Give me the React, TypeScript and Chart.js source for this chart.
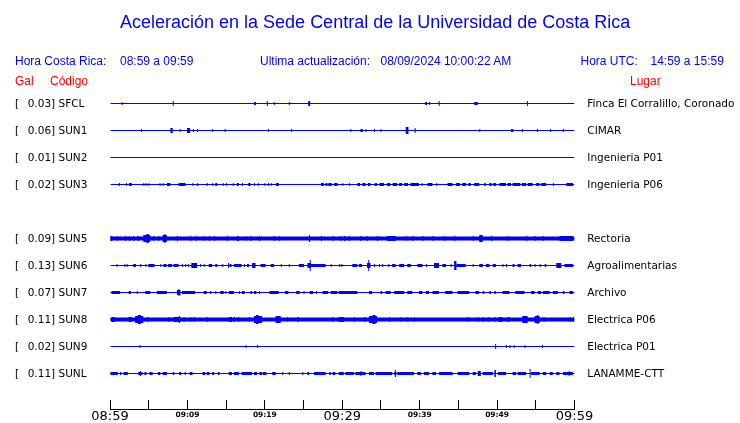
import React, { useEffect, useRef } from 'react';
import { Chart, registerables } from 'chart.js';

Chart.register(...registerables);

const TITLE = 'Aceleración en la Sede Central de la Universidad de Costa Rica';
const CR_TIME = '08:59 a 09:59';
const UTC_TIME = '14:59 a 15:59';
const UPDATED = '08/09/2024 10:00:22 AM';

const CODES = ['SFCL', 'SUN1', 'SUN2', 'SUN3', 'SUN5', 'SUN6', 'SUN7', 'SUN8', 'SUN9', 'SUNL'];
const PEAK_GAL = ['0.03', '0.06', '0.01', '0.02', '0.09', '0.13', '0.07', '0.11', '0.02', '0.11'];
const PLACES = [
  'Finca El Corralillo, Coronado',
  'CIMAR',
  'Ingenieria P01',
  'Ingenieria P06',
  'Rectoria',
  'Agroalimentarias',
  'Archivo',
  'Electrica P06',
  'Electrica P01',
  'LANAMME-CTT',
];
// slot of each station in the display (slot 4 is empty)
const ROWS = [0, 1, 2, 3, 5, 6, 7, 8, 9, 10];

// tick labels every 10 minutes from the window start (minute 0 = 08:59)
const TIME_LABELS = ['08:59', '09:09', '09:19', '09:29', '09:39', '09:49', '09:59'];
const WINDOW_MINUTES = 60;

// Each trace: [startMinute, endMinute, amplitude level]
const SFCL_TRACE = [
  [1.5, 1.5, 1], [8.1, 8.1, 2], [18.6, 18.85, 1], [20.25, 20.25, 2], [21.15, 21.15, 1],
  [23.1, 23.1, 1], [25.6, 25.85, 2], [40.7, 40.95, 1], [41.2, 41.2, 1], [42.45, 42.45, 2],
  [47.05, 47.5, 1], [53.85, 53.85, 2],
];
const SUN1_TRACE = [
  [4.0, 4.0, 1], [7.8, 8.1, 2], [9.0, 9.0, 1], [9.95, 10.35, 2], [10.7, 10.7, 1],
  [11.25, 11.25, 1], [13.2, 13.2, 1], [14.8, 14.8, 1], [20.4, 20.4, 1], [23.4, 23.4, 1],
  [31.05, 31.05, 1], [32.35, 32.65, 1], [33.0, 33.0, 1], [34.1, 34.1, 1], [34.95, 34.95, 1],
  [38.2, 38.55, 3], [39.35, 39.35, 2], [47.7, 47.7, 1], [51.8, 52.1, 1], [53.2, 53.2, 1],
  [55.15, 55.15, 1], [56.85, 56.85, 1], [58.5, 58.5, 1],
];
const SUN2_TRACE: number[][] = [];
const SUN3_TRACE = [
  [1.15, 1.15, 1], [2.05, 2.05, 1], [2.45, 2.8, 1], [4.3, 4.3, 1], [4.6, 4.6, 1], [4.95, 4.95, 1],
  [6.4, 6.4, 1], [6.8, 6.8, 1], [7.35, 7.8, 1], [8.85, 9.75, 1], [10.65, 10.65, 1], [11.25, 11.25, 1],
  [12.5, 12.5, 1], [13.2, 13.2, 1], [13.6, 13.85, 1], [14.55, 14.55, 1], [15.0, 15.0, 1],
  [15.85, 15.85, 1], [16.4, 16.65, 1], [17.05, 17.05, 1], [17.85, 18.15, 1], [18.6, 18.6, 1],
  [19.1, 19.1, 1], [19.95, 19.95, 1], [20.4, 20.4, 1], [20.75, 20.75, 1], [21.45, 21.8, 1],
  [27.25, 27.65, 1], [27.85, 28.1, 1], [28.2, 28.65, 1], [28.95, 29.4, 1], [30.0, 30.0, 1],
  [30.85, 30.85, 1], [31.95, 32.3, 1], [32.6, 33.0, 1], [33.3, 33.65, 1], [34.2, 34.5, 1],
  [34.8, 35.4, 1], [35.8, 36.2, 1], [36.5, 37.1, 1], [37.35, 37.75, 1], [38.0, 38.5, 1],
  [38.8, 39.9, 1], [40.25, 40.25, 1], [41.0, 41.65, 1], [42.15, 42.15, 1], [43.6, 44.25, 1],
  [44.7, 45.2, 1], [45.5, 46.0, 1], [46.3, 46.6, 1], [47.05, 47.7, 1], [48.35, 48.55, 1],
  [49.0, 49.3, 1], [49.5, 49.85, 1], [50.3, 51.15, 1], [51.35, 51.8, 1], [52.0, 53.0, 1],
  [53.2, 53.75, 1], [53.95, 54.6, 1], [55.05, 55.5, 1], [55.7, 56.35, 1], [57.2, 57.2, 1],
  [58.95, 59.8, 1],
];
const SUN5_TRACE = [
  [0, 60, 1.5],
  [0, 0.3, 2], [0.85, 0.85, 2], [1.95, 1.95, 2], [2.45, 2.45, 2], [3.0, 3.0, 2], [3.6, 3.6, 2],
  [4.3, 5.2, 3], [4.7, 5.0, 4], [5.6, 5.6, 2], [6.25, 6.25, 2], [6.8, 7.35, 3], [7.0, 7.1, 4],
  [8.65, 8.65, 2], [10.35, 10.35, 2], [11.1, 11.1, 2], [12.1, 12.1, 2], [12.75, 12.75, 2],
  [13.4, 13.4, 2], [15.1, 15.1, 2], [16.4, 16.65, 2], [17.5, 17.5, 2], [18.15, 18.15, 2],
  [19.25, 19.25, 2], [21.15, 21.15, 2], [21.8, 21.8, 2], [25.7, 25.7, 3], [27.25, 27.25, 2],
  [28.75, 28.75, 2], [29.75, 29.75, 2], [30.2, 30.4, 2], [30.85, 30.85, 2], [32.35, 32.35, 2],
  [33.2, 33.2, 2], [34.5, 34.5, 2], [35.8, 36.9, 2], [38.2, 38.2, 2], [39.05, 39.05, 2],
  [40.35, 40.35, 2], [41.65, 41.65, 2], [43.15, 43.15, 2], [44.45, 44.45, 2], [46.85, 46.85, 2],
  [47.7, 48.15, 3], [49.2, 49.2, 2], [51.35, 51.35, 2], [53.75, 53.75, 2], [54.85, 54.85, 2],
  [55.9, 55.9, 2], [58.05, 59.8, 2],
];
const SUN6_TRACE = [
  [0.85, 0.85, 1], [1.85, 1.85, 1], [2.15, 2.15, 1], [3.0, 3.35, 1], [3.9, 3.9, 1], [4.55, 4.55, 1],
  [4.95, 5.75, 1], [6.5, 6.5, 1], [6.9, 7.3, 1], [7.5, 8.0, 1], [8.2, 8.85, 1], [9.3, 9.3, 1],
  [9.7, 9.7, 1], [10.05, 10.05, 1], [10.5, 11.25, 2], [11.65, 11.65, 1], [12.1, 12.1, 1],
  [12.75, 13.2, 1], [13.6, 13.85, 1], [14.5, 14.5, 1], [15.25, 15.25, 2], [15.45, 15.7, 1],
  [16.0, 17.0, 1], [17.3, 17.3, 1], [17.7, 17.95, 1], [18.35, 18.8, 2], [19.45, 20.1, 1],
  [20.75, 21.2, 1], [22.05, 22.05, 1], [23.1, 23.1, 1], [24.4, 25.05, 1], [25.5, 25.95, 2],
  [25.8, 25.8, 5], [25.95, 27.85, 1], [28.5, 28.5, 1], [29.6, 29.6, 1], [29.9, 29.9, 1],
  [31.3, 31.95, 1], [32.15, 32.55, 1], [33.2, 33.65, 2], [33.35, 33.35, 5], [34.1, 34.1, 1],
  [34.75, 34.75, 1], [35.15, 35.15, 1], [35.95, 35.95, 1], [36.45, 36.9, 1], [37.35, 38.0, 1],
  [38.4, 38.85, 1], [39.7, 40.35, 1], [40.8, 40.8, 1], [41.85, 42.5, 2], [42.95, 43.4, 1],
  [44.0, 44.0, 1], [44.45, 44.75, 4], [44.75, 45.95, 1], [46.85, 46.85, 1], [47.7, 48.15, 1],
  [48.55, 49.0, 1], [49.45, 49.85, 1], [50.7, 50.7, 1], [51.15, 51.15, 1], [52.0, 52.25, 1],
  [52.65, 53.1, 1], [54.2, 54.4, 1], [54.85, 54.85, 1], [55.5, 55.5, 1], [56.15, 56.35, 1],
  [57.65, 58.3, 2], [58.7, 59.8, 1],
];
const SUN7_TRACE = [
  [0.2, 1.3, 1], [2.4, 2.7, 1], [3.45, 3.45, 1], [4.55, 5.2, 1], [6.05, 7.35, 1], [8.65, 9.1, 2],
  [8.85, 8.85, 3], [9.3, 11.0, 1], [12.1, 12.5, 1], [12.95, 12.95, 1], [13.6, 13.6, 1],
  [14.25, 14.7, 1], [14.9, 14.9, 1], [15.35, 16.0, 1], [16.65, 16.65, 1], [17.05, 17.4, 1],
  [18.15, 18.35, 1], [18.6, 18.9, 1], [19.25, 19.25, 1], [20.6, 21.8, 1], [22.6, 23.05, 1],
  [24.05, 24.5, 1], [25.0, 25.0, 1], [25.8, 26.25, 1], [26.6, 26.6, 1], [27.45, 28.2, 1],
  [28.5, 29.4, 1], [29.55, 31.95, 1], [33.45, 33.85, 1], [34.95, 35.15, 1], [35.6, 36.25, 1],
  [36.7, 38.0, 1], [38.4, 39.05, 1], [39.9, 40.35, 1], [40.8, 41.2, 1], [41.65, 42.5, 1],
  [43.3, 44.25, 1], [44.9, 46.4, 1], [47.2, 47.7, 1], [48.15, 48.35, 1], [49.0, 49.2, 1],
  [49.65, 49.85, 1], [50.7, 51.6, 1], [52.35, 53.55, 1], [54.4, 54.85, 1], [55.25, 55.7, 1],
  [55.9, 56.8, 1], [57.2, 57.85, 1], [58.5, 58.7, 1], [59.35, 59.8, 1],
];
const SUN8_TRACE = [
  [0, 60, 1.5],
  [0.2, 0.65, 2], [2.4, 2.8, 2], [3.25, 4.3, 3], [3.6, 4.0, 4], [4.75, 4.95, 2], [7.55, 7.55, 2],
  [8.2, 9.1, 2], [8.9, 8.9, 3], [9.5, 9.5, 2], [10.35, 10.35, 2], [10.8, 10.8, 2], [12.5, 12.5, 2],
  [15.35, 15.75, 2], [16.0, 16.0, 2], [16.55, 16.55, 2], [17.95, 17.95, 2], [18.6, 19.65, 3],
  [18.85, 19.2, 4], [21.4, 22.05, 3], [22.9, 22.9, 2], [24.2, 24.4, 2], [28.7, 28.7, 2],
  [29.55, 30.2, 2], [31.5, 31.5, 2], [32.8, 33.0, 2], [33.45, 34.5, 3], [33.9, 34.3, 4],
  [36.05, 36.05, 2], [37.55, 37.55, 2], [38.4, 38.4, 2], [39.25, 39.25, 2], [46.2, 46.2, 2],
  [47.5, 47.5, 2], [48.15, 48.15, 2], [48.8, 48.8, 2], [49.65, 49.65, 2], [50.2, 50.7, 2],
  [51.35, 51.6, 2], [53.25, 53.95, 3], [54.85, 55.5, 3], [55.15, 55.3, 4], [56.0, 56.0, 2],
  [59.35, 59.35, 2], [59.8, 59.8, 2],
];
const SUN9_TRACE = [
  [3.8, 3.8, 1], [17.5, 17.5, 1], [19.0, 19.0, 1], [49.75, 49.75, 2], [51.15, 51.15, 1],
  [51.6, 51.6, 1], [52.15, 52.15, 1], [53.55, 53.55, 1], [55.8, 55.8, 1],
];
const SUNL_TRACE = [
  [0, 1.0, 1], [1.3, 1.45, 1], [1.75, 2.3, 1], [3.65, 4.2, 1], [3.85, 4.0, 2], [4.45, 4.7, 1],
  [5.1, 5.5, 1], [6.2, 6.5, 1], [6.8, 7.35, 1], [8.1, 8.3, 1], [8.95, 9.2, 1], [9.65, 9.8, 1],
  [10.3, 10.65, 1], [11.95, 12.3, 1], [12.5, 12.85, 1], [13.2, 13.45, 1], [13.95, 14.15, 1],
  [15.35, 15.75, 1], [16.0, 16.65, 1], [17.0, 18.35, 1], [18.6, 19.0, 1], [19.3, 19.65, 1],
  [19.75, 20.2, 1], [20.95, 21.4, 1], [22.25, 22.25, 1], [23.1, 23.1, 1], [24.85, 24.85, 1],
  [25.5, 25.7, 1], [26.35, 27.85, 1], [28.3, 28.5, 1], [28.75, 29.1, 1], [29.55, 30.2, 1],
  [30.4, 31.5, 1], [31.7, 33.0, 1], [32.35, 32.35, 2], [33.45, 34.1, 1], [34.3, 36.45, 1],
  [36.7, 37.0, 1], [36.8, 36.8, 3], [37.1, 39.25, 1], [39.7, 40.15, 1], [40.55, 41.2, 1],
  [41.65, 42.1, 1], [42.5, 44.25, 1], [44.9, 46.4, 1], [46.85, 47.25, 1], [47.5, 47.9, 2],
  [48.15, 49.45, 1], [49.65, 49.85, 3], [50.1, 51.15, 1], [52.0, 52.45, 1], [52.65, 53.75, 1],
  [54.2, 54.2, 4], [54.4, 55.5, 1], [55.9, 56.35, 1], [56.8, 57.2, 1], [57.65, 58.05, 1],
  [58.5, 59.8, 1], [59.25, 59.25, 2],
];

const TRACES = [
  SFCL_TRACE, SUN1_TRACE, SUN2_TRACE, SUN3_TRACE, SUN5_TRACE,
  SUN6_TRACE, SUN7_TRACE, SUN8_TRACE, SUN9_TRACE, SUNL_TRACE,
];

const BLUE = '#0000ff';
const RED = '#ff0000';
const MIN_SPIKE = 0.13; // minutes, ~1px

function buildDatasets() {
  const byLevel = new Map<number, { x: [number, number]; y: number }[]>();
  byLevel.set(0, ROWS.map((r) => ({ x: [0, WINDOW_MINUTES] as [number, number], y: r })));
  TRACES.forEach((trace, k) => {
    trace.forEach(([s, e, a]) => {
      if (!byLevel.has(a)) byLevel.set(a, []);
      byLevel.get(a)!.push({ x: [s, Math.max(e, s + MIN_SPIKE)], y: ROWS[k] });
    });
  });
  return [...byLevel.entries()]
    .sort((p, q) => p[0] - q[0])
    .map(([lvl, data]) => ({
      type: 'bar' as const,
      data,
      backgroundColor: BLUE,
      borderWidth: 0,
      inflateAmount: 0,
      grouped: false,
      barThickness: lvl === 0 ? 1 : 2 * lvl + 1,
    }));
}

const axisLinePlugin = {
  id: 'axisLine',
  afterDraw(chart: any) {
    const { ctx, chartArea } = chart;
    const x = chart.scales.x;
    const y = chartArea.bottom + 9.5;
    ctx.save();
    ctx.strokeStyle = '#000';
    ctx.lineWidth = 1;
    ctx.beginPath();
    ctx.moveTo(Math.floor(x.getPixelForValue(0)), y);
    ctx.lineTo(Math.floor(x.getPixelForValue(WINDOW_MINUTES)) + 1, y);
    ctx.stroke();
    ctx.restore();
  },
};

export default function App() {
  const canvasRef = useRef<HTMLCanvasElement | null>(null);

  useEffect(() => {
    document.body.style.margin = '0';
    const canvas = canvasRef.current;
    if (!canvas) return;
    const chart = new Chart(canvas, {
      type: 'bar',
      data: { datasets: buildDatasets() as any },
      options: {
        animation: false,
        responsive: true,
        maintainAspectRatio: false,
        indexAxis: 'y',
        layout: { padding: { left: 110, right: 165.5, top: 90, bottom: 0 } },
        plugins: { legend: { display: false }, tooltip: { enabled: false } },
        scales: {
          x: {
            type: 'linear',
            position: 'bottom',
            min: 0,
            max: WINDOW_MINUTES,
            offset: false,
            afterFit: (s: any) => {
              s.height = 23;
            },
            border: { display: false },
            grid: { drawOnChartArea: false, drawTicks: true, tickLength: 9, color: '#000', lineWidth: 1, offset: false },
            ticks: {
              stepSize: 5,
              autoSkip: false,
              maxRotation: 0,
              padding: 0,
              color: '#000',
              callback: (v: any) => (Number(v) % 10 === 0 ? TIME_LABELS[Number(v) / 10] : ''),
              font: (ctx: any) => {
                const v = ctx && ctx.tick ? ctx.tick.value : 0;
                return v % 30 === 0
                  ? { family: 'DejaVu Sans', size: 13, lineHeight: 1.23 }
                  : { family: 'DejaVu Sans', size: 7.5, weight: 'bold', lineHeight: 1.73 };
              },
            },
          },
          y: {
            type: 'linear',
            min: -0.5,
            max: 10.9815,
            reverse: true,
            display: false,
            offset: false,
            grid: { offset: false },
          },
        },
      } as any,
      plugins: [axisLinePlugin],
    });
    return () => chart.destroy();
  }, []);

  const hdr: React.CSSProperties = {
    position: 'absolute',
    fontFamily: '"Liberation Sans", Arial, sans-serif',
    fontSize: 12,
    lineHeight: '14px',
    whiteSpace: 'pre',
  };
  const lab: React.CSSProperties = {
    position: 'absolute',
    fontFamily: '"DejaVu Sans", sans-serif',
    fontSize: 10.5,
    lineHeight: '13px',
    color: '#000',
    whiteSpace: 'pre',
  };

  return (
    <div style={{ position: 'relative', width: 740, height: 423, background: '#fff', overflow: 'hidden' }}>
      <canvas ref={canvasRef} style={{ position: 'absolute', left: 0, top: 0 }} />
      <div
        style={{
          position: 'absolute',
          left: 120,
          top: 10,
          fontFamily: '"Liberation Sans", Arial, sans-serif',
          fontSize: 18,
          lineHeight: '24px',
          color: BLUE,
          whiteSpace: 'pre',
        }}
      >
        {TITLE}
      </div>
      <div style={{ ...hdr, left: 15, top: 54, color: BLUE }}>Hora Costa Rica:</div>
      <div style={{ ...hdr, left: 120, top: 54, color: BLUE }}>{CR_TIME}</div>
      <div style={{ ...hdr, left: 260, top: 54, color: BLUE }}>Ultima actualización:</div>
      <div style={{ ...hdr, left: 380.5, top: 54, color: BLUE }}>{UPDATED}</div>
      <div style={{ ...hdr, left: 580.5, top: 54, color: BLUE }}>Hora UTC:</div>
      <div style={{ ...hdr, left: 650.5, top: 54, color: BLUE }}>{UTC_TIME}</div>
      <div style={{ ...hdr, left: 15, top: 74, color: RED }}>Gal</div>
      <div style={{ ...hdr, left: 50, top: 74, color: RED }}>Código</div>
      <div style={{ ...hdr, left: 630, top: 74, color: RED }}>Lugar</div>
      {CODES.map((code, k) => (
        <React.Fragment key={code}>
          <div style={{ ...lab, left: 15, top: 97 + 27 * ROWS[k] }}>[</div>
          <div style={{ ...lab, left: 27.7, top: 97 + 27 * ROWS[k] }}>{`${PEAK_GAL[k]}] ${code}`}</div>
          <div style={{ ...lab, left: 587.3, top: 97 + 27 * ROWS[k] }}>{PLACES[k]}</div>
        </React.Fragment>
      ))}
    </div>
  );
}
